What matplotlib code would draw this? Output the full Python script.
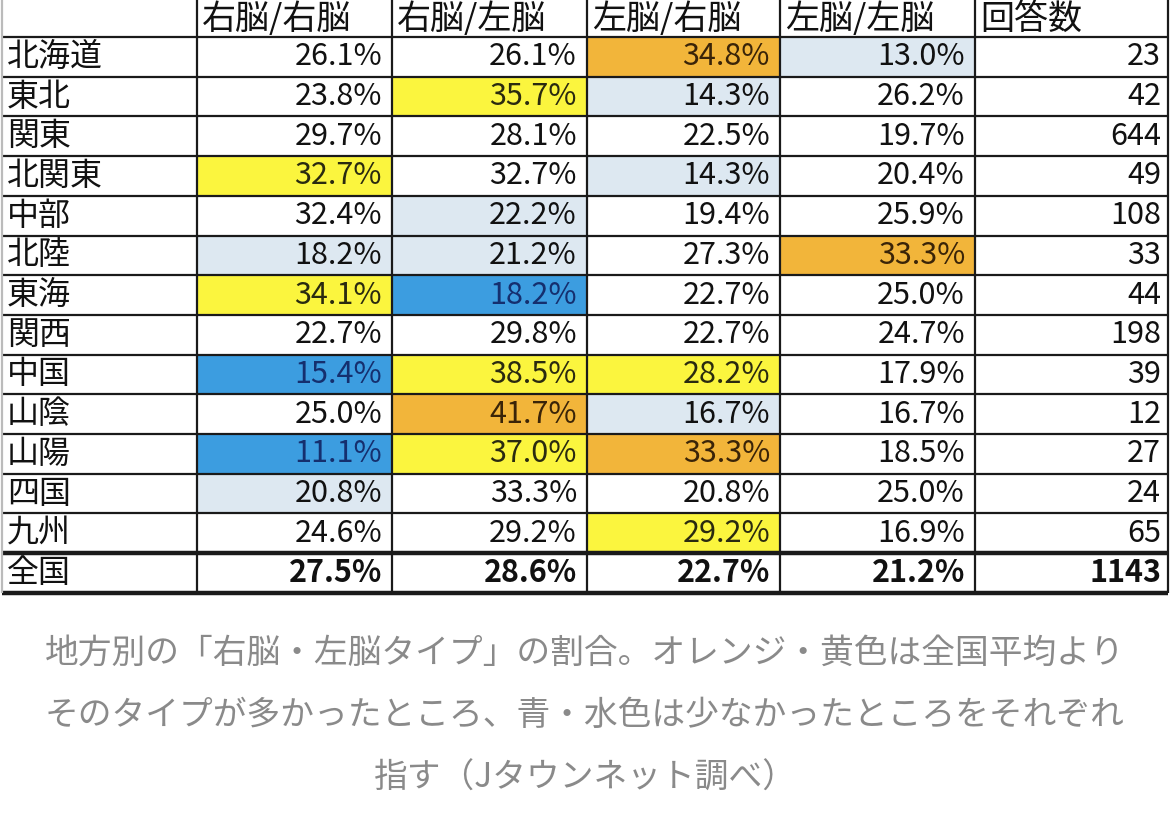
import matplotlib
matplotlib.use("Agg")
import matplotlib.pyplot as plt
from matplotlib.patches import Rectangle

plt.rcParams['font.family'] = ['Noto Sans CJK JP', 'DejaVu Sans']

# ---- data ----
headers = ["右脳/右脳", "右脳/左脳", "左脳/右脳", "左脳/左脳", "回答数"]
regions = ["北海道", "東北", "関東", "北関東", "中部", "北陸", "東海", "関西",
           "中国", "山陰", "山陽", "四国", "九州"]
rr = [26.1, 23.8, 29.7, 32.7, 32.4, 18.2, 34.1, 22.7, 15.4, 25.0, 11.1, 20.8, 24.6]
rl = [26.1, 35.7, 28.1, 32.7, 22.2, 21.2, 18.2, 29.8, 38.5, 41.7, 37.0, 33.3, 29.2]
lr = [34.8, 14.3, 22.5, 14.3, 19.4, 27.3, 22.7, 22.7, 28.2, 16.7, 33.3, 20.8, 29.2]
ll = [13.0, 26.2, 19.7, 20.4, 25.9, 33.3, 25.0, 24.7, 17.9, 16.7, 18.5, 25.0, 16.9]
counts = [23, 42, 644, 49, 108, 33, 44, 198, 39, 12, 27, 24, 65]
total_label = "全国"
total_pct = [27.5, 28.6, 22.7, 21.2]
total_count = 1143
# highlight: O=orange, Y=yellow (more than national), B=blue, L=light blue (less), -=none
hl_rr = ["-", "-", "-", "Y", "-", "L", "Y", "-", "B", "-", "B", "L", "-"]
hl_rl = ["-", "Y", "-", "-", "L", "L", "B", "-", "Y", "O", "Y", "-", "-"]
hl_lr = ["O", "L", "-", "L", "-", "-", "-", "-", "Y", "L", "O", "-", "Y"]
hl_ll = ["L", "-", "-", "-", "-", "O", "-", "-", "-", "-", "-", "-", "-"]
caption = ["地方別の「右脳・左脳タイプ」の割合。オレンジ・黄色は全国平均より",
           "そのタイプが多かったところ、青・水色は少なかったところをそれぞれ",
           "指す（Jタウンネット調べ）"]

# ---- styles ----
fill = {"O": "#f2b53a", "Y": "#fbf53e", "B": "#3c9de0", "L": "#dde8f1", "-": "white"}
txtcol = {"O": "#3a2408", "Y": "#2a2a10", "B": "#152f6e", "L": "#111111", "-": "#111111"}

W, H = 1170, 823
fig = plt.figure(figsize=(W / 100, H / 100), dpi=100)
ax = fig.add_axes([0, 0, 1, 1])
ax.set_xlim(0, W)
ax.set_ylim(H, 0)
ax.axis("off")

col_edges = [2, 197, 392, 587, 780, 975, 1168]
head_h = 37
row_h = 39.7
n = len(regions)
row_top = [head_h + i * row_h for i in range(n + 1)]
table_bottom = head_h + (n + 1) * row_h

pct_cols = [rr, rl, lr, ll]
hl_cols = [hl_rr, hl_rl, hl_lr, hl_ll]

# cell fills
for j in range(4):
    for i in range(n):
        code = hl_cols[j][i]
        if code != "-":
            ax.add_patch(Rectangle((col_edges[j + 1], row_top[i]),
                                   col_edges[j + 2] - col_edges[j + 1], row_h,
                                   facecolor=fill[code], edgecolor="none", zorder=1))

fs = 22
fs_lab = 23
# header
for j, h in enumerate(headers):
    ax.text(col_edges[j + 1] + 5, head_h / 2 + 0.5, h, ha="left", va="center",
            fontsize=24.5, color="#111111", zorder=3)

# body
for i in range(n):
    yc = row_top[i] + row_h / 2
    ax.text(7, yc, regions[i], ha="left", va="center", fontsize=fs_lab,
            color="#111111", zorder=3)
    for j in range(4):
        ax.text(col_edges[j + 2] - 10, yc, f"{pct_cols[j][i]:.1f}%", ha="right",
                va="center", fontsize=fs, color=txtcol[hl_cols[j][i]], zorder=3)
    ax.text(col_edges[6] - 7, yc, f"{counts[i]}", ha="right", va="center",
            fontsize=fs, color="#111111", zorder=3)

# total row
yc = row_top[n] + row_h / 2
ax.text(7, yc, total_label, ha="left", va="center", fontsize=fs_lab, color="#111111", zorder=3)
for j in range(4):
    ax.text(col_edges[j + 2] - 10, yc, f"{total_pct[j]:.1f}%", ha="right", va="center",
            fontsize=fs, fontweight="bold", color="#111111", zorder=3)
ax.text(col_edges[6] - 7, yc, f"{total_count}", ha="right", va="center",
        fontsize=fs, fontweight="bold", color="#111111", zorder=3)

# grid lines
lc = "#1a1a1a"
for k, y in enumerate(row_top):
    lw = 3.2 if k == n else 1.6
    ax.plot([col_edges[0], col_edges[-1]], [y, y], color=lc, lw=lw, zorder=4,
            solid_capstyle="butt")
ax.plot([col_edges[0], col_edges[-1]], [table_bottom, table_bottom], color=lc, lw=3.2,
        zorder=4, solid_capstyle="butt")
for k, x in enumerate(col_edges):
    c = "#bbbbbb" if k == 0 else lc
    ax.plot([x, x], [0, table_bottom], color=c, lw=1.6, zorder=4, solid_capstyle="butt")

# caption
for k, line in enumerate(caption):
    ax.text(585, 653 + k * 62.5, line, ha="center", va="center", fontsize=24.3,
            color="#8a8a8a", zorder=3)

fig.savefig("out.png", dpi=100, facecolor="white")
